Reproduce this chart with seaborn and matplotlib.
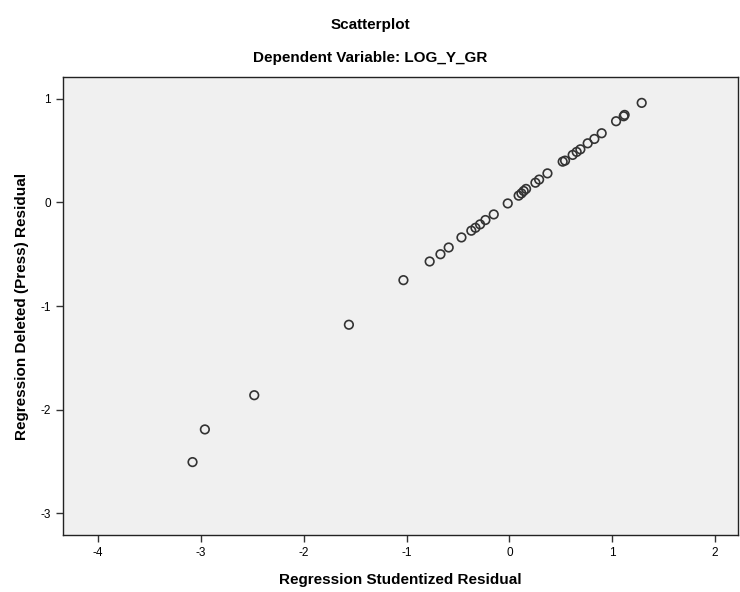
import matplotlib.pyplot as plt
import seaborn as sns
import pandas as pd

sns.set_theme(style="white")
plt.rcParams["font.family"] = ["Liberation Sans", "DejaVu Sans"]
plt.rcParams["axes.unicode_minus"] = False
plt.rcParams["text.color"] = "black"
plt.rcParams["axes.labelcolor"] = "black"
plt.rcParams["xtick.color"] = "black"
plt.rcParams["ytick.color"] = "black"

# Werte
studentized = [-3.08, -2.96, -2.48, -1.56, -1.03, -0.775, -0.67, -0.59, -0.466,
               -0.37, -0.33, -0.285, -0.233, -0.152, -0.016, 0.09, 0.117, 0.139,
               0.162, 0.253, 0.289, 0.37, 0.518, 0.541, 0.615, 0.654, 0.69,
               0.761, 0.826, 0.897, 1.037, 1.111, 1.12, 1.286]
deleted = [-2.505, -2.19, -1.86, -1.18, -0.75, -0.57, -0.50, -0.435, -0.338,
           -0.273, -0.245, -0.212, -0.17, -0.116, -0.01, 0.065, 0.087, 0.11,
           0.13, 0.19, 0.22, 0.28, 0.393, 0.403, 0.458, 0.487, 0.512,
           0.57, 0.612, 0.667, 0.783, 0.831, 0.844, 0.96]
x_ticks = [-4, -3, -2, -1, 0, 1, 2]
y_ticks = [1, 0, -1, -2, -3]

df = pd.DataFrame({"x": studentized, "y": deleted})

fig = plt.figure(figsize=(7.4, 5.92), dpi=100)
ax = fig.add_axes([0.085, 0.096, 0.912, 0.774])
ax.set_facecolor("#f0f0f0")

sns.scatterplot(data=df, x="x", y="y", ax=ax, s=38, marker="o",
                facecolors="none", edgecolor="#333333", linewidth=1.2)

ax.set_xlim(-4.34, 2.22)
ax.set_ylim(-3.21, 1.21)
ax.set_xticks(x_ticks)
ax.set_yticks(y_ticks)
ax.tick_params(axis="both", direction="out", length=5, width=1,
               labelsize=8.5, color="#333333", bottom=True, left=True)

for sp in ax.spines.values():
    sp.set_color("#222222")
    sp.set_linewidth(1)

ax.set_xlabel("Regression Studentized Residual", fontsize=11, fontweight="bold",
              labelpad=10)
ax.set_ylabel("Regression Deleted (Press) Residual", fontsize=11,
              fontweight="bold", labelpad=8)

fig.text(0.5, 0.957, "Scatterplot", ha="center", va="center",
         fontsize=11, fontweight="bold")
fig.text(0.5, 0.902, "Dependent Variable: LOG_Y_GR", ha="center", va="center",
         fontsize=11, fontweight="bold")

plt.savefig("out.png", dpi=100)
plt.close()
